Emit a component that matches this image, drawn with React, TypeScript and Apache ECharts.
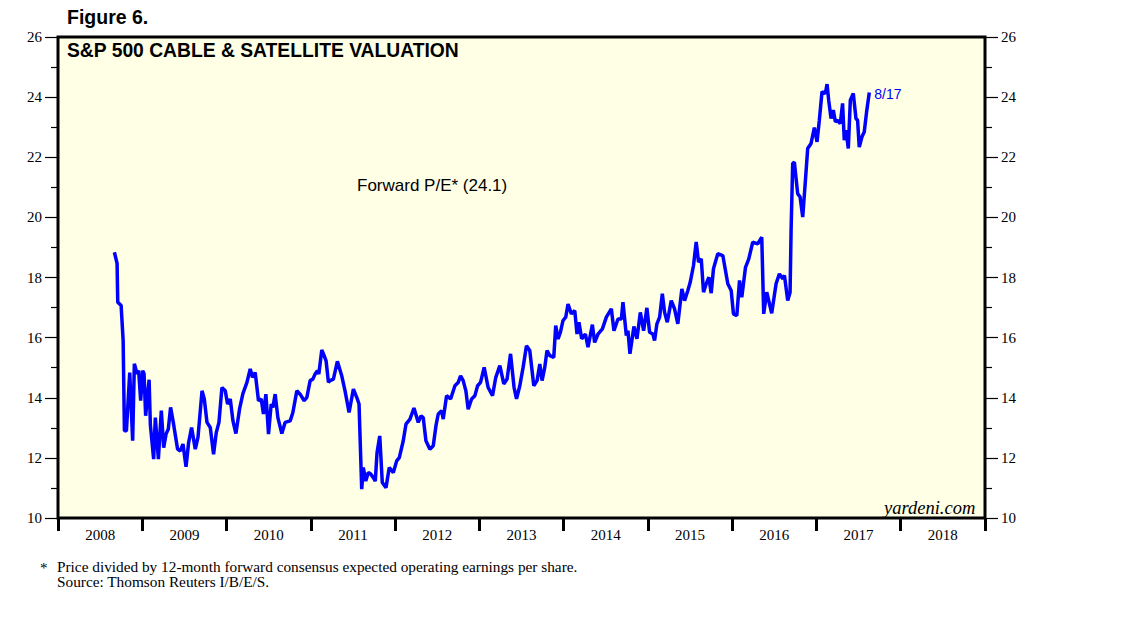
import React, { useEffect, useRef } from "react";
import * as echarts from "echarts";

// Calendar year categories (labels centred between yearly ticks)
const yearLabels = ["2008", "2009", "2010", "2011", "2012", "2013", "2014", "2015", "2016", "2017", "2018"];

// Observation dates as decimal years
const dates = [
  2008.669, 2008.701, 2008.709, 2008.749, 2008.773, 2008.788, 2008.812, 2008.851, 2008.886, 2008.906,
  2008.938, 2008.957, 2008.981, 2009.005, 2009.021, 2009.04, 2009.06, 2009.081, 2009.096, 2009.135,
  2009.155, 2009.191, 2009.226, 2009.254, 2009.282, 2009.309, 2009.336, 2009.368, 2009.419, 2009.451,
  2009.483, 2009.519, 2009.55, 2009.585, 2009.629, 2009.661, 2009.709, 2009.736, 2009.768, 2009.807,
  2009.846, 2009.878, 2009.91, 2009.945, 2009.985, 2010.012, 2010.044, 2010.076, 2010.111, 2010.154,
  2010.194, 2010.242, 2010.281, 2010.308, 2010.34, 2010.379, 2010.411, 2010.438, 2010.467, 2010.498,
  2010.53, 2010.55, 2010.577, 2010.609, 2010.656, 2010.695, 2010.755, 2010.787, 2010.834, 2010.873,
  2010.921, 2010.953, 2010.992, 2011.024, 2011.051, 2011.078, 2011.095, 2011.13, 2011.158, 2011.181,
  2011.209, 2011.229, 2011.268, 2011.315, 2011.367, 2011.406, 2011.454, 2011.505, 2011.552, 2011.572,
  2011.604, 2011.623, 2011.652, 2011.682, 2011.711, 2011.742, 2011.765, 2011.786, 2011.818, 2011.848,
  2011.892, 2011.931, 2011.979, 2012.019, 2012.05, 2012.097, 2012.129, 2012.177, 2012.224, 2012.275,
  2012.307, 2012.334, 2012.366, 2012.413, 2012.453, 2012.485, 2012.512, 2012.552, 2012.571, 2012.611,
  2012.659, 2012.71, 2012.749, 2012.777, 2012.808, 2012.84, 2012.867, 2012.908, 2012.947, 2012.979,
  2013.014, 2013.057, 2013.104, 2013.156, 2013.195, 2013.243, 2013.29, 2013.329, 2013.37, 2013.412,
  2013.441, 2013.48, 2013.519, 2013.559, 2013.598, 2013.646, 2013.685, 2013.717, 2013.744, 2013.776,
  2013.803, 2013.835, 2013.883, 2013.906, 2013.934, 2013.962, 2013.993, 2014.025, 2014.052, 2014.092,
  2014.132, 2014.159, 2014.182, 2014.214, 2014.258, 2014.289, 2014.341, 2014.368, 2014.408, 2014.46,
  2014.507, 2014.566, 2014.597, 2014.645, 2014.685, 2014.704, 2014.744, 2014.763, 2014.787, 2014.834,
  2014.87, 2014.91, 2014.949, 2014.988, 2015.02, 2015.059, 2015.079, 2015.107, 2015.139, 2015.171,
  2015.198, 2015.23, 2015.277, 2015.316, 2015.355, 2015.403, 2015.435, 2015.474, 2015.502, 2015.541,
  2015.573, 2015.601, 2015.633, 2015.66, 2015.692, 2015.723, 2015.751, 2015.778, 2015.829, 2015.889,
  2015.948, 2015.988, 2016.015, 2016.055, 2016.087, 2016.114, 2016.158, 2016.197, 2016.244, 2016.303,
  2016.351, 2016.374, 2016.41, 2016.469, 2016.521, 2016.56, 2016.6, 2016.62, 2016.659, 2016.687,
  2016.699, 2016.718, 2016.738, 2016.777, 2016.806, 2016.837, 2016.869, 2016.896, 2016.936, 2016.975,
  2017.007, 2017.034, 2017.066, 2017.105, 2017.126, 2017.145, 2017.173, 2017.2, 2017.224, 2017.251,
  2017.283, 2017.31, 2017.33, 2017.351, 2017.378, 2017.402, 2017.437, 2017.469, 2017.488, 2017.508,
  2017.54, 2017.567, 2017.595, 2017.627,
];

// Forward P/E values
const forwardPE = [
  18.84, 18.47, 17.18, 17.07, 15.9, 12.9, 12.9, 14.84, 12.57, 15.13,
  14.8, 14.9, 13.9, 14.9, 14.8, 13.4, 14.0, 14.6, 13.1, 11.96,
  13.34, 11.96, 13.57, 12.34, 12.79, 12.96, 13.68, 13.18, 12.29, 12.23,
  12.46, 11.7, 12.51, 13.01, 12.29, 12.68, 14.23, 13.96, 13.18, 13.01,
  12.12, 12.84, 13.18, 14.34, 14.23, 13.79, 13.96, 13.23, 12.81, 13.62,
  14.14, 14.51, 14.96, 14.68, 14.84, 13.9, 13.96, 13.46, 14.12, 12.79,
  13.79, 13.68, 14.12, 13.34, 12.81, 13.18, 13.23, 13.51, 14.23, 14.12,
  13.9, 14.01, 14.57, 14.62, 14.79, 14.9, 14.79, 15.59, 15.4, 15.23,
  14.51, 14.57, 14.62, 15.21, 14.73, 14.23, 13.51, 14.29, 13.96, 13.79,
  10.96, 11.68, 11.23, 11.51, 11.46, 11.34, 11.23, 12.18, 12.73, 11.18,
  11.01, 11.68, 11.51, 11.9, 12.01, 12.57, 13.12, 13.29, 13.66, 13.18,
  13.4, 13.34, 12.57, 12.29, 12.4, 13.07, 13.46, 13.57, 13.29, 14.07,
  13.96, 14.4, 14.51, 14.73, 14.57, 14.23, 13.62, 13.96, 14.07, 14.4,
  14.51, 15.01, 14.34, 14.07, 14.68, 15.07, 14.46, 14.62, 15.46, 14.34,
  13.96, 14.4, 15.01, 15.73, 15.57, 14.4, 14.57, 15.12, 14.57, 15.01,
  15.57, 15.4, 15.34, 16.4, 15.96, 16.18, 16.57, 16.68, 17.12, 16.79,
  16.9, 16.12, 16.51, 15.96, 16.12, 15.68, 16.43, 15.84, 16.12, 16.29,
  16.68, 16.96, 16.23, 16.62, 16.62, 17.18, 16.07, 16.23, 15.46, 16.37,
  15.96, 16.84, 16.23, 16.99, 16.18, 16.12, 15.9, 16.46, 16.68, 17.46,
  16.84, 16.51, 17.23, 16.96, 16.46, 17.62, 17.23, 17.57, 17.84, 18.4,
  19.18, 18.51, 18.62, 17.51, 17.79, 18.01, 17.48, 18.29, 18.79, 18.73,
  17.79, 17.57, 16.79, 16.73, 17.9, 17.34, 18.34, 18.62, 19.18, 19.12,
  19.34, 16.79, 17.51, 16.81, 17.79, 18.12, 17.96, 18.07, 17.23, 17.51,
  19.57, 21.79, 21.84, 20.79, 20.68, 20.01, 21.23, 22.29, 22.46, 22.99,
  22.51, 23.23, 24.18, 24.12, 24.43, 23.9, 23.29, 23.57, 23.18, 23.23,
  23.12, 23.79, 22.57, 22.9, 22.29, 23.9, 24.12, 23.29, 23.23, 22.34,
  22.68, 22.84, 23.51, 24.15,
];

const lastLabel = "8/17";
const titleText = "S&P 500 CABLE & SATELLITE VALUATION";
const figureText = "Figure 6.";
const seriesLabel = "Forward P/E* (24.1)";
const footnote1 = "Price divided by 12-month forward consensus expected operating earnings per share.";
const footnote2 = "Source: Thomson Reuters I/B/E/S.";

export default function App() {
  const ref = useRef<HTMLDivElement>(null);
  useEffect(() => {
    if (!ref.current) return;
    const chart = echarts.init(ref.current, null, { renderer: "svg" });
    const data = dates.map((d, i) => [d, forwardPE[i]]);
    const serif = "'Liberation Serif', 'Times New Roman', serif";
    const sans = "'Liberation Sans', Arial, sans-serif";
    const yAxisCommon = {
      type: "value",
      min: 10,
      max: 26,
      interval: 2,
      axisLine: { show: false },
      axisTick: { show: true, length: 13, lineStyle: { color: "#000", width: 1.2 } },
      minorTick: { show: true, splitNumber: 2, length: 7, lineStyle: { color: "#000", width: 1.2 } },
      splitLine: { show: false },
      minorSplitLine: { show: false },
      axisLabel: { color: "#000", fontFamily: serif, fontSize: 15, margin: 16 },
    };
    chart.setOption({
      animation: false,
      backgroundColor: "#fff",
      grid: {
        left: 58,
        right: 153,
        top: 37,
        bottom: 103,
        show: true,
        backgroundColor: "#FFFFE6",
        borderColor: "#000",
        borderWidth: 3,
      },
      xAxis: [
        {
          type: "category",
          data: yearLabels,
          boundaryGap: true,
          position: "bottom",
          axisLine: { show: false },
          axisTick: { show: true, length: 13, inside: false, lineStyle: { color: "#000", width: 3 } },
          axisLabel: { color: "#000", fontFamily: serif, fontSize: 15, margin: 9 },
          splitLine: { show: false },
        },
        {
          type: "value",
          min: 2008,
          max: 2019,
          show: false,
          splitLine: { show: false },
        },
      ],
      yAxis: [
        { ...yAxisCommon, position: "left" },
        { ...yAxisCommon, position: "right" },
      ],
      series: [
        {
          type: "line",
          xAxisIndex: 1,
          yAxisIndex: 0,
          data,
          showSymbol: false,
          symbol: "none",
          lineStyle: { color: "#0000FF", width: 3.5 },
          endLabel: {
            show: true,
            formatter: lastLabel,
            color: "#0000FF",
            fontFamily: sans,
            fontSize: 14,
            distance: 5,
            offset: [0, 1],
          },
        },
      ],
      graphic: [
        {
          type: "text",
          left: 67,
          top: 7,
          style: { text: figureText, fill: "#000", font: `bold 19.5px ${sans}` },
        },
        {
          type: "text",
          left: 67,
          top: 41,
          style: { text: titleText, fill: "#000", font: `bold 19.3px ${sans}` },
        },
        {
          type: "text",
          left: 357,
          top: 177,
          style: { text: seriesLabel, fill: "#000", font: `17px ${sans}` },
        },
        {
          type: "text",
          left: 884,
          top: 498,
          style: { text: "yardeni.com", fill: "#000", font: `italic 18.5px ${serif}` },
        },
        {
          type: "text",
          left: 40,
          top: 560,
          style: { text: "*", fill: "#000", font: `15px ${serif}` },
        },
        {
          type: "text",
          left: 57,
          top: 559,
          style: { text: footnote1, fill: "#000", font: `15.3px ${serif}` },
        },
        {
          type: "text",
          left: 57,
          top: 574,
          style: { text: footnote2, fill: "#000", font: `15.3px ${serif}` },
        },
      ],
    });
    return () => chart.dispose();
  }, []);
  return <div ref={ref} style={{ position: "fixed", left: 0, top: 0, width: 1138, height: 621 }} />;
}
